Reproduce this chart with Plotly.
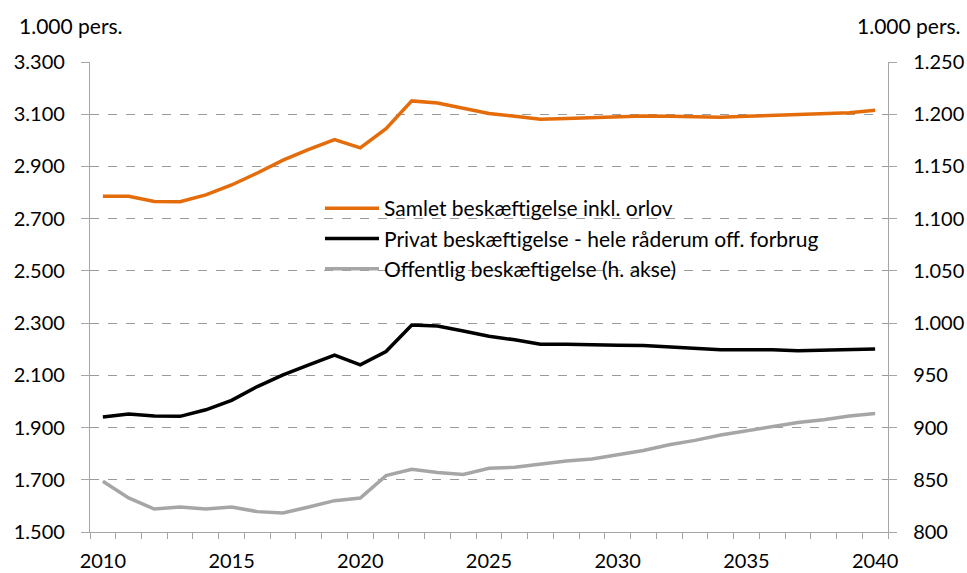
import plotly.graph_objects as go

years = list(range(2010, 2041))
samlet = [2786, 2786, 2766, 2765, 2791, 2829, 2875, 2924, 2965, 3003, 2971, 3045, 3151, 3143, 3123,
          3103, 3092, 3081, 3084, 3087, 3090, 3093, 3092, 3091, 3088, 3092, 3096, 3098, 3103, 3106, 3115]
privat = [1940, 1952, 1944, 1943, 1968, 2004, 2057, 2102, 2140, 2177, 2140, 2191, 2293, 2289, 2270,
          2250, 2236, 2219, 2219, 2216, 2215, 2214, 2209, 2204, 2198, 2198, 2198, 2194, 2196, 2196, 2201]
offentlig = [848.5, 832.6, 822, 824, 822, 824, 819.5, 818.3, 824, 830, 832.6, 854, 860, 857, 855,
             861, 862, 864.7, 868, 869.8, 873.6, 878, 883.5, 887.7, 892.8, 896.6, 901, 904.9, 907.5, 911, 913.5]
names = ["Samlet beskæftigelse inkl. orlov",
         "Privat beskæftigelse - hele råderum off. forbrug",
         "Offentlig beskæftigelse (h. akse)"]
label_years = [2010, 2015, 2020, 2025, 2030, 2035, 2040]
left_ticks = list(range(1500, 3301, 200))
right_ticks = list(range(800, 1251, 50))

FONT = "Lato"
TS = 20
AX = "#a6a6a6"

fig = go.Figure()
fig.add_trace(go.Scatter(x=years, y=samlet, name=names[0], mode="lines",
                         line=dict(color="#E46C0A", width=3.5)))
fig.add_trace(go.Scatter(x=years, y=privat, name=names[1], mode="lines",
                         line=dict(color="#000000", width=3.5)))
fig.add_trace(go.Scatter(x=years, y=offentlig, name=names[2], mode="lines", yaxis="y2",
                         line=dict(color="#A6A6A6", width=3.5)))
fig.add_trace(go.Scatter(x=years, y=samlet, xaxis="x2", mode="lines", showlegend=False,
                         hoverinfo="skip", line=dict(width=0), opacity=0))

W, H = 967, 573
l, r, t, b = 90, 79, 62, 41
pw, ph = W - l - r, H - t - b


def px_x(v):
    return (v - l) / pw


def px_y(v):
    return 1 - (v - t) / ph


xr = [years[0] - 0.5, years[-1] + 0.5]
fig.update_layout(
    width=W, height=H,
    margin=dict(l=l, r=r, t=t, b=b),
    paper_bgcolor="white", plot_bgcolor="white",
    separators=",.",
    font=dict(family=FONT, size=TS, color="#000000"),
    showlegend=True,
    legend=dict(x=px_x(320), y=px_y(188), xanchor="left", yanchor="top",
                bgcolor="rgba(0,0,0,0)", font=dict(size=21, family=FONT),
                tracegroupgap=0, itemwidth=54),
    xaxis=dict(range=xr, tickvals=[y - 0.5 for y in years] + [years[-1] + 0.5],
               ticktext=[""] * (len(years) + 1), ticks="outside", ticklen=6,
               tickcolor=AX, showline=True, linecolor=AX, linewidth=1.3,
               showgrid=False, zeroline=False, automargin=False),
    xaxis2=dict(range=xr, overlaying="x", tickvals=label_years,
                ticktext=[str(y) for y in label_years], ticks="",
                showline=False, showgrid=False, zeroline=False, side="bottom",
                ticklabelstandoff=15, automargin=False),
    yaxis=dict(range=[1500, 3300], tickvals=left_ticks, tickformat=",d",
               ticks="outside", ticklen=8, tickcolor=AX, showline=True, linecolor=AX,
               linewidth=1.3, showgrid=True, gridcolor="#9a9a9a", griddash="dash",
               gridwidth=1, zeroline=False, ticklabelstandoff=12, automargin=False),
    yaxis2=dict(range=[800, 1250], tickvals=right_ticks, tickformat=",d",
                overlaying="y", side="right", ticks="outside", ticklen=8,
                tickcolor=AX, showline=True, linecolor=AX, linewidth=1.3,
                showgrid=False, zeroline=False, ticklabelstandoff=12, automargin=False),
)
# white legend box that hides the gridlines behind it
fig.add_shape(type="rect", xref="paper", yref="paper", layer="between",
              x0=px_x(297), x1=px_x(886), y0=px_y(290), y1=px_y(190),
              fillcolor="white", line=dict(width=0))
fig.add_annotation(text="1.000 pers.", xref="paper", yref="paper",
                   x=px_x(17), y=(H - 25 - b) / ph, xanchor="left", yanchor="middle",
                   showarrow=False, font=dict(size=21, family=FONT))
fig.add_annotation(text="1.000 pers.", xref="paper", yref="paper",
                   x=px_x(963), y=(H - 25 - b) / ph, xanchor="right", yanchor="middle",
                   showarrow=False, font=dict(size=21, family=FONT))

fig.write_html("out.html", config={"displayModeBar": False},
               post_script="document.body.style.margin='0';document.body.style.overflow='hidden';")
